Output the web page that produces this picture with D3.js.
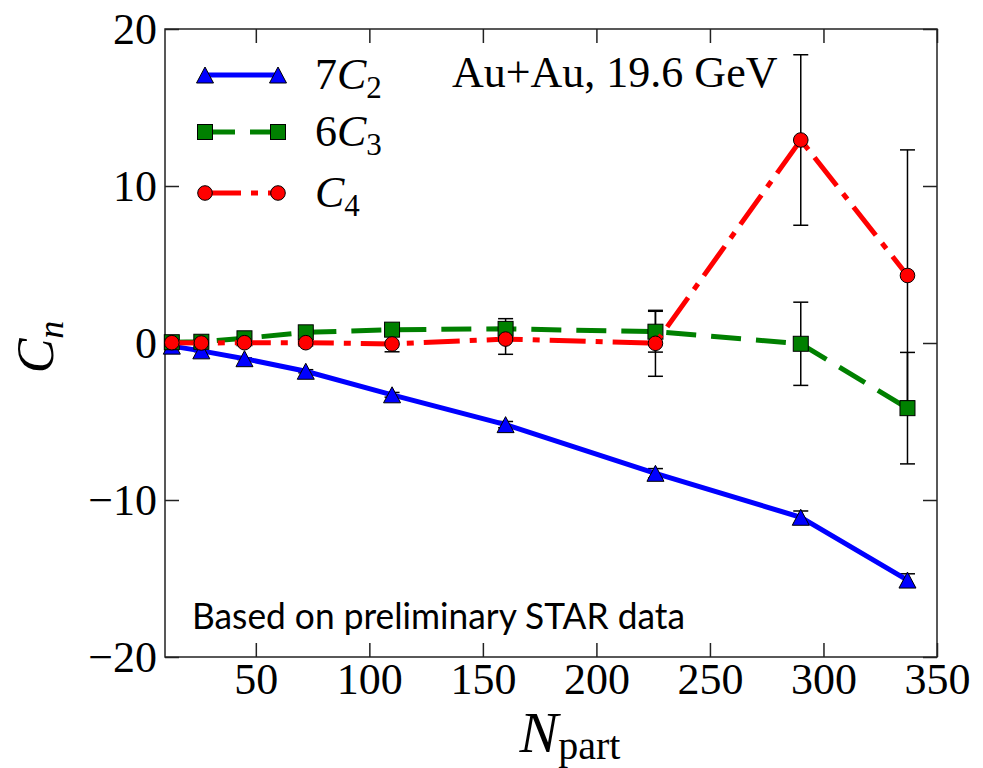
<!DOCTYPE html>
<html>
<head>
<meta charset="utf-8">
<script src="https://cdn.jsdelivr.net/npm/d3@7"></script>
<style>
  html, body { margin: 0; padding: 0; background: #fff; }
  svg { display: block; }
</style>
</head>
<body>
<svg id="chart" width="983" height="768"></svg>
<script>
// ---- data ----
const npart   = [13, 26, 45, 72, 110, 160, 226, 290, 337];
const c2x7    = [-0.2, -0.5, -1.0, -1.8, -3.3, -5.2, -8.3, -11.1, -15.1];
const c2x7Err = [0.05, 0.05, 0.05, 0.1, 0.15, 0.2, 0.3, 0.4, 0.4];
const c3x6    = [0.05, 0.08, 0.3, 0.68, 0.85, 0.9, 0.72, -0.05, -4.15];
const c3x6Err = [0.05, 0.1, 0.15, 0.2, 0.3, 0.65, 1.3, 2.65, 3.55];
const c4      = [0.02, 0.0, 0.02, 0.02, -0.06, 0.25, -0.02, 12.93, 4.3];
const c4Err   = [0.05, 0.05, 0.1, 0.2, 0.5, 0.97, 2.1, 5.43, 8.0];

const xTicks = [50, 100, 150, 200, 250, 300, 350];
const yTicks = [-20, -10, 0, 10, 20];
const xDomain = [10, 350];
const yDomain = [-20, 20];

const seriesNames = ["7C2", "6C3", "C4"];
const annotation = "Au+Au, 19.6 GeV";
const note = "Based on preliminary STAR data";

// ---- layout ----
const svg = d3.select("#chart");
const L = 165, R = 937, T = 29, B = 657;
const x = d3.scaleLinear().domain(xDomain).range([L, R]);
const y = d3.scaleLinear().domain(yDomain).range([B, T]);
const serif = "'Liberation Serif', 'DejaVu Serif', serif";

const series = [
  {name: seriesNames[0], vals: c2x7, err: c2x7Err, color: "#0000ff", dash: null, marker: "tri"},
  {name: seriesNames[1], vals: c3x6, err: c3x6Err, color: "#008000", dash: "30,15", marker: "sq"},
  {name: seriesNames[2], vals: c4,   err: c4Err,   color: "#ff0000", dash: "36,10,7,10", marker: "circ"}
];

// axes
const axStyle = g => {
  g.selectAll("path.domain").remove();
  g.selectAll(".tick line").attr("stroke", "#222").attr("stroke-width", 1.5);
  g.selectAll(".tick text").attr("font-family", serif).attr("font-size", 44).attr("fill", "#000");
};
svg.append("g").attr("transform", `translate(0,${B})`)
  .call(d3.axisBottom(x).tickValues(xTicks).tickSizeInner(-14).tickSizeOuter(0).tickPadding(6).tickFormat(d3.format("d")))
  .call(axStyle);
svg.append("g").attr("transform", `translate(0,${T})`)
  .call(d3.axisTop(x).tickValues(xTicks).tickSizeInner(-14).tickSizeOuter(0).tickFormat(""))
  .call(axStyle);
svg.append("g").attr("transform", `translate(${L},0)`)
  .call(d3.axisLeft(y).tickValues(yTicks).tickSizeInner(-14).tickSizeOuter(0).tickPadding(8).tickFormat(d3.format("d")))
  .call(axStyle)
  .call(g => g.selectAll(".tick text").attr("dy", "0.34em"));
svg.append("g").attr("transform", `translate(${R},0)`)
  .call(d3.axisRight(y).tickValues(yTicks).tickSizeInner(-14).tickSizeOuter(0).tickFormat(""))
  .call(axStyle);

// frame
svg.append("rect").attr("x", L).attr("y", T).attr("width", R - L).attr("height", B - T)
  .attr("fill", "none").attr("stroke", "#222").attr("stroke-width", 1.5);

// error bars (below everything)
const eb = svg.append("g");
series.forEach(s => {
  npart.forEach((n, i) => {
    const cx = x(n), y1 = y(s.vals[i] + s.err[i]), y0 = y(s.vals[i] - s.err[i]);
    eb.append("line").attr("x1", cx).attr("x2", cx).attr("y1", y1).attr("y2", y0)
      .attr("stroke", "#000").attr("stroke-width", 1.5);
    [y1, y0].forEach(yy => eb.append("line").attr("x1", cx - 7.5).attr("x2", cx + 7.5)
      .attr("y1", yy).attr("y2", yy).attr("stroke", "#000").attr("stroke-width", 1.5));
  });
});

function drawMarker(g, kind, cx, cy, color) {
  if (kind === "tri") {
    const w = 8.5, h = 8;
    g.append("path").attr("d", `M${cx},${cy - h}L${cx + w},${cy + h}L${cx - w},${cy + h}Z`)
      .attr("fill", color).attr("stroke", "#000").attr("stroke-width", 1);
  } else if (kind === "sq") {
    g.append("rect").attr("x", cx - 7.5).attr("y", cy - 7.5).attr("width", 15).attr("height", 15)
      .attr("fill", color).attr("stroke", "#000").attr("stroke-width", 1);
  } else {
    g.append("circle").attr("cx", cx).attr("cy", cy).attr("r", 7.3)
      .attr("fill", color).attr("stroke", "#000").attr("stroke-width", 1);
  }
}

// series lines + markers
const line = d3.line().x(d => x(d[0])).y(d => y(d[1]));
series.forEach(s => {
  const g = svg.append("g");
  const pts = npart.map((n, i) => [n, s.vals[i]]);
  g.append("path").attr("d", line(pts)).attr("fill", "none")
    .attr("stroke", s.color).attr("stroke-width", 5)
    .attr("stroke-dasharray", s.dash);
  pts.forEach(p => drawMarker(g, s.marker, x(p[0]), y(p[1]), s.color));
});

// legend
const legRows = [75, 132, 193];
const lx0 = 205, lx1 = 278, ltx = 315;
series.forEach((s, i) => {
  const g = svg.append("g");
  const ly = legRows[i];
  g.append("line").attr("x1", lx0).attr("x2", lx1).attr("y1", ly).attr("y2", ly)
    .attr("stroke", s.color).attr("stroke-width", 5).attr("stroke-dasharray", s.dash);
  drawMarker(g, s.marker, lx0, ly, s.color);
  drawMarker(g, s.marker, lx1, ly, s.color);
  const t = g.append("text").attr("x", ltx).attr("y", ly + 14)
    .attr("font-family", serif).attr("font-size", 44).attr("fill", "#000");
  const coef = s.name.slice(0, s.name.indexOf("C"));
  const sub = s.name.slice(s.name.indexOf("C") + 1);
  if (coef) t.append("tspan").text(coef);
  t.append("tspan").attr("font-style", "italic").text("C");
  t.append("tspan").attr("font-size", 31).attr("dy", 9).text(sub);
});

// annotation
svg.append("text").attr("x", 452).attr("y", 87)
  .attr("font-family", serif).attr("font-size", 44).attr("fill", "#000")
  .text(annotation);

svg.append("text").attr("x", 192).attr("y", 629)
  .attr("font-family", "Lato, 'Open Sans', sans-serif").attr("font-size", 37).attr("fill", "#000")
  .attr("textLength", 493).attr("lengthAdjust", "spacingAndGlyphs")
  .text(note);

// axis labels
const xl = svg.append("text").attr("x", 570).attr("y", 752).attr("text-anchor", "middle")
  .attr("font-family", serif).attr("font-size", 58).attr("fill", "#000");
xl.append("tspan").attr("font-style", "italic").text("N");
xl.append("tspan").attr("font-size", 40).attr("dy", 7).text("part");

const yl = svg.append("text").attr("transform", "translate(53,347) rotate(-90)")
  .attr("text-anchor", "middle")
  .attr("font-family", serif).attr("font-size", 52).attr("fill", "#000");
yl.append("tspan").attr("font-style", "italic").text("C");
yl.append("tspan").attr("font-style", "italic").attr("font-size", 36).attr("dy", 10).text("n");
</script>
</body>
</html>
